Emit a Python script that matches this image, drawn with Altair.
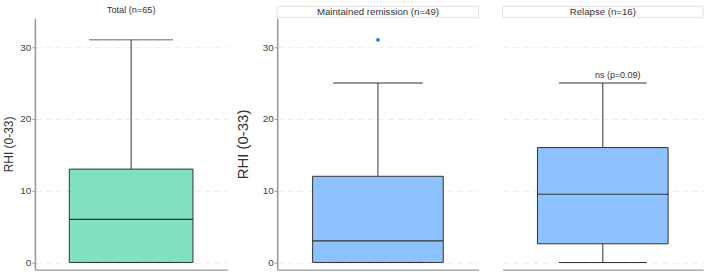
import altair as alt
import pandas as pd

groups = ["Total (n=65)", "Maintained remission (n=49)", "Relapse (n=16)"]
whisker_low = [0, 0, 0]
q1 = [0, 0, 2.6]
median = [6, 3, 9.5]
q3 = [13, 12, 16]
whisker_high = [31, 25, 25]

outlier_group = ["Maintained remission (n=49)"]
outlier_value = [31]

annot_group = ["Relapse (n=16)"]
annot_value = [25]
annot_text = ["ns (p=0.09)"]

y_ticks = [0, 10, 20, 30]
y_title = "RHI (0-33)"

summary = pd.DataFrame({
    "group": groups, "low": whisker_low, "q1": q1, "median": median,
    "q3": q3, "high": whisker_high,
})
outliers = pd.DataFrame({"group": outlier_group, "value": outlier_value})
annots = pd.DataFrame({"group": annot_group, "value": annot_value, "label": annot_text})

FONT = "Liberation Sans"
LINE = "#333333"
GRID = "#ececec"
AXIS = "#9a9a9a"


def panel(idx, width, box_w, cap_w, fill, show_axis, title_size, title_pad, framed):
    g = groups[idx]
    d = summary[summary.group == g]
    yscale = alt.Scale(domain=[-1, 34], nice=False, zero=False)
    title = y_title if show_axis else None
    if show_axis:
        yaxis = alt.Axis(values=y_ticks, titleFontSize=title_size,
                         titleFont=FONT, titleFontWeight="normal", titleColor=LINE,
                         labelFontSize=10, labelColor="#444444", labelFont=FONT,
                         domainColor=AXIS, domainWidth=1.6, tickColor=AXIS, tickSize=3,
                         labelPadding=1, grid=True, gridColor=GRID, gridDash=[6, 4],
                         titlePadding=title_pad)
    else:
        yaxis = alt.Axis(values=y_ticks, labels=False, ticks=False,
                         domain=False, grid=True, gridColor=GRID, gridDash=[6, 4])
    xaxis = alt.Axis(labels=False, ticks=False, domain=True,
                     domainColor=AXIS, domainWidth=1.3, grid=False)
    x = alt.X("group:N", axis=xaxis, title=None)
    base = alt.Chart(d).encode(x=x)

    def Y(field):
        return alt.Y(field, scale=yscale, axis=yaxis, title=title)

    layers = []
    if framed:
        layers.append(alt.Chart(d).mark_rect(fill="white", stroke="#e2e2e2", strokeWidth=1).encode(
            x=alt.value(0), x2=alt.value(width), y=alt.value(-12), y2=alt.value(-1)))
        ty = -6
        fs = 9.7
    else:
        ty = -8
        fs = 9.2
    layers.append(base.mark_rule(color=LINE, strokeWidth=1).encode(y=Y("low:Q"), y2="high:Q"))
    layers.append(base.mark_bar(size=box_w, fill=fill, stroke=LINE, strokeWidth=1, opacity=1).encode(
        y=Y("q1:Q"), y2="q3:Q"))
    layers.append(base.mark_tick(size=cap_w, thickness=1, color=LINE, opacity=1).encode(y=Y("high:Q")))
    layers.append(base.mark_tick(size=cap_w, thickness=1, color=LINE, opacity=1).encode(y=Y("low:Q")))
    layers.append(base.mark_tick(size=box_w, thickness=1.2, color=LINE, opacity=1).encode(y=Y("median:Q")))
    o = outliers[outliers.group == g]
    if len(o):
        layers.append(alt.Chart(o).mark_circle(size=14, color="#1f78e6", opacity=1).encode(
            x=x, y=Y("value:Q")))
    a = annots[annots.group == g]
    if len(a):
        layers.append(alt.Chart(a).mark_text(font=FONT, fontSize=9, color=LINE, dx=15, dy=-3,
                                             baseline="bottom").encode(
            x=x, y=Y("value:Q"), text="label:N"))
    layers.append(alt.Chart(d).mark_text(font=FONT, fontSize=fs, color=LINE).encode(
        x=alt.value(width / 2), y=alt.value(ty), text="group:N"))
    return alt.layer(*layers).properties(width=width, height=252)


left = panel(0, 193, 124, 84, "#82e0c2", True, 12, 4, False)
mid = panel(1, 202, 131, 90, "#8ec1ff", True, 15, 12, True)
right = panel(2, 201, 131, 88, "#8ec1ff", False, 12, 4, True)

chart = alt.hconcat(left, alt.hconcat(mid, right, spacing=22), spacing=7).properties(
    padding={"left": 2, "top": 5, "right": 5, "bottom": 4},
    background="white",
).configure_view(stroke=None)

chart.save("out.html", embed_options={"renderer": "svg", "actions": False})
